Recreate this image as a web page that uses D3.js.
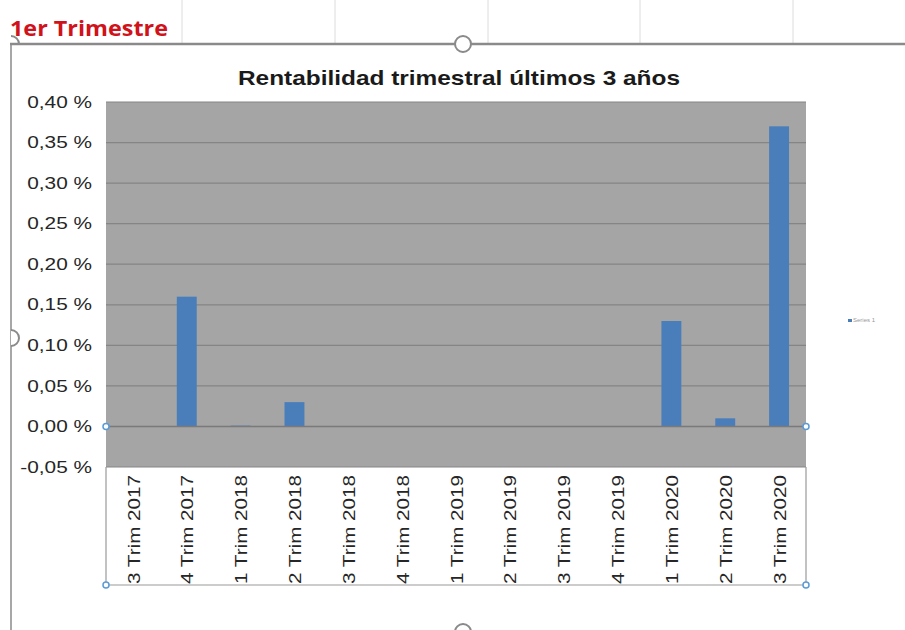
<!DOCTYPE html>
<html><head><meta charset="utf-8">
<script src="https://cdn.jsdelivr.net/npm/d3@7"></script>
<style>body{margin:0;background:#fff}svg{display:block}</style>
</head><body>
<script>
const categories = ["3 Trim 2017","4 Trim 2017","1 Trim 2018","2 Trim 2018","3 Trim 2018","4 Trim 2018","1 Trim 2019","2 Trim 2019","3 Trim 2019","4 Trim 2019","1 Trim 2020","2 Trim 2020","3 Trim 2020"];
const values = [0, 0.16, 0.001, 0.03, 0, 0, 0, 0, 0, 0, 0.13, 0.01, 0.37];
const yTicks = [-0.05, 0, 0.05, 0.10, 0.15, 0.20, 0.25, 0.30, 0.35, 0.40];
const seriesName = "Series 1";
const title = "Rentabilidad trimestral últimos 3 años";
const sheetLabel = "1er Trimestre";

const W = 905, H = 630;
const svg = d3.select("body").append("svg").attr("width", W).attr("height", H);
const FONT = "Liberation Sans, Arial, sans-serif";

function stretch(sel, k) {
  sel.each(function () {
    const len = this.getComputedTextLength();
    d3.select(this).attr("textLength", len * k).attr("lengthAdjust", "spacingAndGlyphs");
  });
}

// spreadsheet grid lines above the chart
[182, 335, 488, 640, 793].forEach(x => svg.append("line").attr("x1", x).attr("x2", x).attr("y1", 0).attr("y2", 43).attr("stroke", "#dcdcdc").attr("stroke-width", 1));
svg.append("text").attr("x", 10).attr("y", 36).attr("fill", "#d0121b").attr("font-family", "Open Sans, Liberation Sans, sans-serif").attr("font-weight", "bold").attr("font-size", 21)
  .attr("textLength", 158).attr("lengthAdjust", "spacingAndGlyphs").text(sheetLabel);

// chart frame
const frameC = "#8a8a8a";
svg.append("line").attr("x1", 10).attr("x2", W).attr("y1", 44).attr("y2", 44).attr("stroke", frameC).attr("stroke-width", 2.5);
svg.append("line").attr("x1", 11).attr("x2", 11).attr("y1", 44).attr("y2", H).attr("stroke", frameC).attr("stroke-width", 1.5);

const x0 = 106, x1 = 806, yTop = 102, yBot = 467;
const x = d3.scaleBand().domain(categories).range([x0, x1]).paddingInner(0.63).paddingOuter(0.315);
const y = d3.scaleLinear().domain([-0.05, 0.40]).range([yBot, yTop]);

// plot area
svg.append("rect").attr("x", x0).attr("y", yTop).attr("width", x1 - x0).attr("height", yBot - yTop).attr("fill", "#a5a5a5");
// gridlines
svg.append("g").selectAll("line").data(yTicks.filter(t => t !== 0)).join("line")
  .attr("x1", x0).attr("x2", x1).attr("y1", d => y(d)).attr("y2", d => y(d))
  .attr("stroke", "#858585").attr("stroke-width", 1.2);

// bars
svg.append("g").selectAll("rect").data(values).join("rect")
  .attr("x", (d, i) => x(categories[i])).attr("width", x.bandwidth())
  .attr("y", d => y(Math.max(0, d))).attr("height", d => Math.abs(y(d) - y(0)))
  .attr("fill", "#4a7ebb");

// zero line
svg.append("line").attr("x1", x0).attr("x2", x1).attr("y1", y(0)).attr("y2", y(0)).attr("stroke", "#7a7a7a").attr("stroke-width", 1.5);

// label area border
svg.append("path").attr("d", `M${x0},${yBot}V585H${x1}V${yBot}`).attr("fill", "none").attr("stroke", "#9a9a9a").attr("stroke-width", 1.2);

// y axis
const yAxis = d3.axisLeft(y).tickValues(yTicks).tickSize(0).tickPadding(0)
  .tickFormat(d => d3.format(".2f")(d).replace(".", ",").replace("−", "-") + " %");
const ya = svg.append("g").attr("transform", `translate(92,0)`).call(yAxis);
ya.select(".domain").remove();
ya.selectAll("text").attr("font-family", FONT).attr("font-size", 16).attr("fill", "#262626");
stretch(ya.selectAll("text"), 1.3);

// x axis
const xAxis = d3.axisBottom(x).tickSize(0).tickPadding(0);
const xa = svg.append("g").attr("transform", `translate(0,${yBot})`).call(xAxis);
xa.select(".domain").remove();
xa.selectAll("text").attr("font-family", FONT).attr("font-size", 16).attr("fill", "#262626")
  .attr("text-anchor", "end").attr("dy", "0.35em").attr("transform", "translate(1,8) rotate(-90)").attr("x", 0).attr("y", 0);
stretch(xa.selectAll("text"), 1.29);

// title
svg.append("text").attr("x", 459).attr("y", 85).attr("text-anchor", "middle")
  .attr("font-family", FONT).attr("font-weight", "bold").attr("font-size", 21).attr("fill", "#1a1a1a")
  .attr("textLength", 442).attr("lengthAdjust", "spacingAndGlyphs").text(title);

// legend
const lg = svg.append("g").attr("transform", "translate(848,322)");
lg.append("rect").attr("x", 0).attr("y", -3).attr("width", 4).attr("height", 3).attr("fill", "#4a7ebb");
lg.append("text").attr("x", 5).attr("y", 0).attr("font-family", FONT).attr("font-size", 6).attr("fill", "#999").text(seriesName);

// selection handles (plot area)
[[x0, y(0)], [x1, y(0)], [x0, 585], [x1, 585]].forEach(([cx, cy]) =>
  svg.append("circle").attr("cx", cx).attr("cy", cy).attr("r", 3).attr("fill", "#fff").attr("stroke", "#5b9bd5").attr("stroke-width", 1.5));

// chart handles
svg.append("circle").attr("cx", 463).attr("cy", 44).attr("r", 8).attr("fill", "#fff").attr("stroke", frameC).attr("stroke-width", 2);
svg.append("path").attr("d", "M11,36 A8,8 0 0,1 19,44").attr("fill", "none").attr("stroke", frameC).attr("stroke-width", 2);
svg.append("path").attr("d", "M11,330 A8,8 0 0,1 11,346").attr("fill", "#fff").attr("stroke", frameC).attr("stroke-width", 2);
svg.append("circle").attr("cx", 463).attr("cy", 632).attr("r", 8).attr("fill", "#fff").attr("stroke", frameC).attr("stroke-width", 2);
</script>
</body></html>
